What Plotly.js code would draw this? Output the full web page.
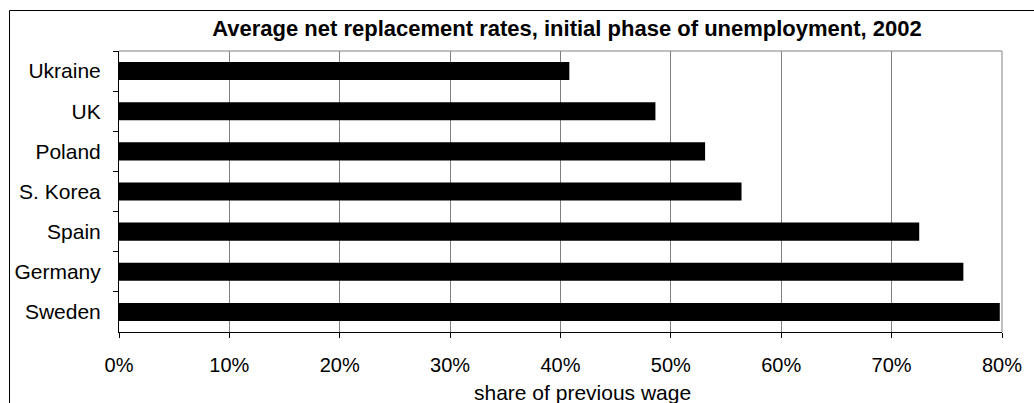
<!DOCTYPE html>
<html>
<head>
<meta charset="utf-8">
<script src="https://cdn.plot.ly/plotly-3.0.1.min.js"></script>
<style>html,body{margin:0;padding:0;background:#fff;}#chart{width:1034px;height:403px;}</style>
</head>
<body>
<div id="chart"></div>
<script>
const countries = ["Ukraine", "UK", "Poland", "S. Korea", "Spain", "Germany", "Sweden"];
const rates = [0.408, 0.486, 0.531, 0.564, 0.725, 0.765, 0.798];
const xTickVals = [0, 0.1, 0.2, 0.3, 0.4, 0.5, 0.6, 0.7, 0.8];
const titleText = "Average net replacement rates, initial phase of unemployment, 2002";
const xTitleText = "share of previous wage";

const W = 1034, H = 403;
const L = 119, R = 32, T = 51, B = 71;
const pw = W - L - R, ph = H - T - B;
const px = v => (v - L) / pw;
const py = v => (H - B - v) / ph;

const font = "Liberation Sans, Arial, sans-serif";

Plotly.newPlot("chart", [{
  type: "bar",
  orientation: "h",
  y: countries,
  x: rates,
  width: 0.45,
  marker: {color: "#000000", line: {width: 0}},
  hoverinfo: "skip"
}], {
  width: W, height: H,
  margin: {l: L, r: R, t: T, b: B, pad: 0},
  paper_bgcolor: "#ffffff",
  plot_bgcolor: "#ffffff",
  showlegend: false,
  font: {family: font, color: "#000000", size: 20},
  title: {
    text: "<b>" + titleText + "</b>",
    font: {family: font, size: 22, color: "#000000"},
    x: px(567), xref: "paper", xanchor: "center",
    y: 1 - 28.5 / H, yref: "container", yanchor: "middle"
  },
  xaxis: {
    range: [0, 0.8],
    tickvals: xTickVals,
    tickformat: ".0%",
    ticks: "outside", ticklen: 5, tickwidth: 1, tickcolor: "#000000",
    showline: true, linecolor: "#000000", linewidth: 1,
    showgrid: true, gridcolor: "#808080", gridwidth: 1,
    zeroline: false,
    ticklabelstandoff: 10,
    tickfont: {family: font, size: 20, color: "#000000"},
    fixedrange: true
  },
  yaxis: {
    type: "category",
    autorange: "reversed",
    ticks: "outside", ticklen: 5, tickwidth: 1, tickcolor: "#000000",
    tickson: "boundaries",
    showline: true, linecolor: "#000000", linewidth: 1,
    showgrid: false, zeroline: false,
    ticklabelstandoff: 13,
    tickfont: {family: font, size: 21, color: "#000000"},
    fixedrange: true
  },
  annotations: [{
    text: xTitleText,
    xref: "paper", yref: "paper",
    x: px(582), y: py(392),
    xanchor: "center", yanchor: "middle",
    showarrow: false,
    font: {family: font, size: 21, color: "#000000"}
  }],
  shapes: [
    {type: "line", xref: "paper", yref: "paper", x0: 0, x1: 1, y0: 1, y1: 1, line: {color: "#808080", width: 1}},
    {type: "line", xref: "paper", yref: "paper", x0: 1, x1: 1, y0: 0, y1: 1, line: {color: "#808080", width: 1}},
    {type: "rect", xref: "paper", yref: "paper", layer: "below",
     x0: px(9.5), x1: px(1045), y0: py(10.5), y1: py(420),
     line: {color: "#000000", width: 1}, fillcolor: "rgba(0,0,0,0)"}
  ]
}, {staticPlot: true, displayModeBar: false});
</script>
</body>
</html>
